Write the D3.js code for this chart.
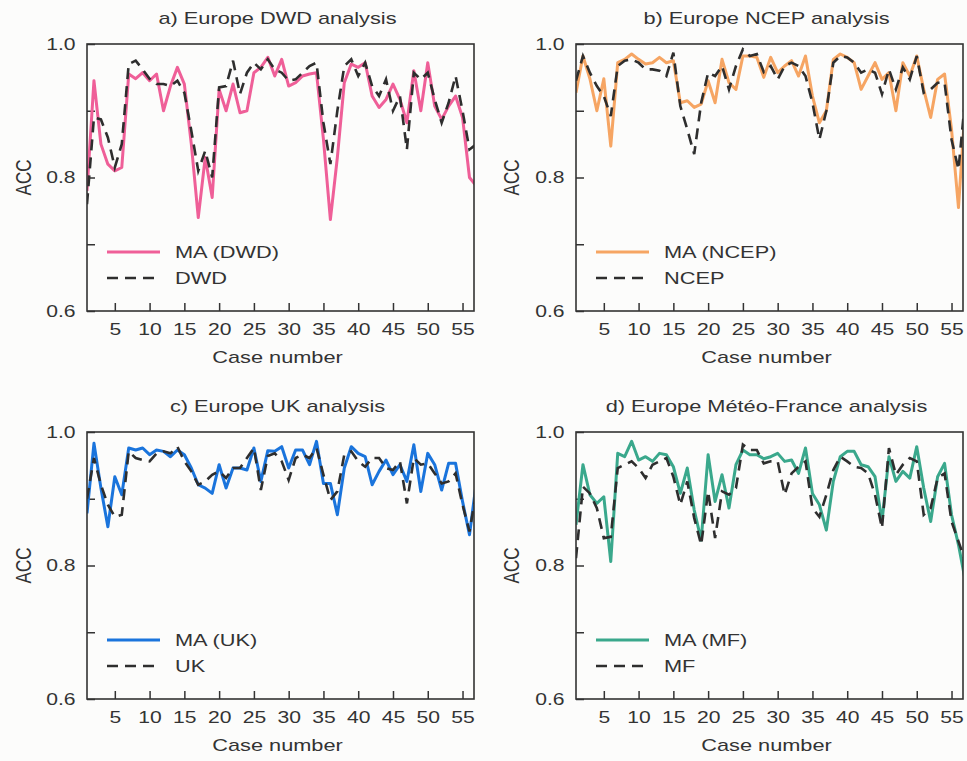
<!DOCTYPE html>
<html>
<head>
<meta charset="utf-8">
<script src="https://cdn.jsdelivr.net/npm/d3@7"></script>
<style>
    body { margin: 0; background: #fcfcfb; }
    svg { display: block; }
    text { font-family: "Liberation Sans", Arial, sans-serif; fill: #333; }
</style>
</head>
<body>
<svg id="chart" width="967" height="761"></svg>
<script>
// Case numbers and tick labels
const cases = d3.range(1, 58);
const xTickValues = [5, 10, 15, 20, 25, 30, 35, 40, 45, 50, 55];
const yTickValues = [0.6, 0.7, 0.8, 0.9, 1.0];
const yTickLabels = ["0.6", "", "0.8", "", "1.0"];

// a) DWD
const maDWD = [0.78,0.945,0.85,0.82,0.81,0.815,0.955,0.948,0.957,0.945,
    0.955,0.90,0.937,0.965,0.94,0.85,0.74,0.83,0.77,0.932,
    0.90,0.94,0.897,0.90,0.957,0.965,0.98,0.952,0.977,0.937,
    0.942,0.952,0.955,0.957,0.857,0.737,0.83,0.942,0.97,0.965,
    0.972,0.922,0.905,0.917,0.94,0.917,0.882,0.96,0.90,0.972,
    0.907,0.887,0.907,0.922,0.89,0.80,0.787];
const dwd = [0.76,0.89,0.887,0.86,0.815,0.85,0.97,0.975,0.962,0.948,
    0.94,0.94,0.937,0.945,0.927,0.87,0.81,0.84,0.80,0.935,
    0.937,0.975,0.925,0.957,0.972,0.962,0.977,0.962,0.957,0.945,
    0.947,0.957,0.967,0.972,0.882,0.82,0.90,0.967,0.977,0.952,
    0.972,0.937,0.922,0.947,0.90,0.922,0.842,0.957,0.947,0.957,
    0.917,0.882,0.912,0.952,0.90,0.842,0.85];

// b) NCEP
const maNCEP = [0.927,0.982,0.948,0.90,0.948,0.847,0.972,0.977,0.985,0.977,
    0.97,0.972,0.98,0.972,0.975,0.912,0.915,0.905,0.91,0.945,
    0.912,0.977,0.942,0.932,0.982,0.982,0.98,0.95,0.98,0.957,
    0.967,0.975,0.952,0.982,0.922,0.882,0.90,0.977,0.985,0.98,
    0.972,0.932,0.952,0.972,0.947,0.957,0.90,0.972,0.952,0.982,
    0.932,0.89,0.947,0.955,0.872,0.755,0.912];
const ncep = [0.945,0.982,0.957,0.937,0.922,0.892,0.967,0.975,0.977,0.972,
    0.962,0.962,0.96,0.952,0.987,0.907,0.872,0.835,0.912,0.957,
    0.952,0.967,0.932,0.967,0.992,0.982,0.985,0.958,0.967,0.947,
    0.967,0.972,0.967,0.952,0.912,0.857,0.90,0.972,0.982,0.98,
    0.972,0.957,0.962,0.957,0.925,0.962,0.932,0.965,0.947,0.982,
    0.927,0.932,0.942,0.942,0.857,0.812,0.922];

// c) UK
const maUK = [0.878,0.983,0.916,0.858,0.933,0.906,0.976,0.973,0.976,0.966,
    0.973,0.971,0.963,0.973,0.966,0.946,0.921,0.916,0.908,0.951,
    0.916,0.946,0.946,0.943,0.976,0.926,0.972,0.971,0.978,0.946,
    0.973,0.973,0.951,0.986,0.923,0.923,0.876,0.946,0.978,0.968,
    0.963,0.921,0.941,0.958,0.936,0.951,0.926,0.981,0.911,0.968,
    0.951,0.913,0.953,0.953,0.896,0.846,0.926];
const uk = [0.90,0.961,0.921,0.891,0.873,0.876,0.971,0.961,0.958,0.956,
    0.968,0.971,0.968,0.978,0.956,0.941,0.921,0.926,0.936,0.941,
    0.931,0.946,0.946,0.961,0.976,0.913,0.964,0.968,0.956,0.928,
    0.961,0.966,0.961,0.976,0.936,0.898,0.911,0.966,0.971,0.956,
    0.948,0.961,0.961,0.946,0.943,0.956,0.893,0.961,0.951,0.953,
    0.938,0.923,0.926,0.938,0.891,0.851,0.911];

// d) Meteo-France
const maMF = [0.861,0.951,0.906,0.893,0.903,0.806,0.968,0.963,0.986,0.958,
    0.963,0.956,0.968,0.966,0.948,0.908,0.946,0.883,0.838,0.966,
    0.896,0.936,0.886,0.951,0.973,0.966,0.966,0.96,0.963,0.968,
    0.956,0.958,0.938,0.976,0.908,0.891,0.853,0.926,0.963,0.971,
    0.971,0.951,0.948,0.933,0.866,0.963,0.926,0.941,0.931,0.978,
    0.916,0.866,0.933,0.953,0.876,0.831,0.776];
const mf = [0.811,0.918,0.908,0.886,0.841,0.843,0.946,0.951,0.956,0.946,
    0.931,0.951,0.956,0.961,0.933,0.891,0.926,0.871,0.831,0.911,
    0.841,0.911,0.906,0.916,0.981,0.973,0.973,0.953,0.956,0.956,
    0.906,0.938,0.948,0.956,0.886,0.873,0.906,0.943,0.963,0.956,
    0.948,0.946,0.938,0.906,0.856,0.976,0.936,0.951,0.961,0.956,
    0.876,0.886,0.931,0.938,0.866,0.836,0.806];

const panels = [
    {id: "a", title: "a) Europe DWD analysis", ma: maDWD, ref: dwd, maName: "MA (DWD)", refName: "DWD", color: "#ef5f98", left: 87, top: 44},
    {id: "b", title: "b) Europe NCEP analysis", ma: maNCEP, ref: ncep, maName: "MA (NCEP)", refName: "NCEP", color: "#f6a563", left: 576, top: 44},
    {id: "c", title: "c) Europe UK analysis", ma: maUK, ref: uk, maName: "MA (UK)", refName: "UK", color: "#1a74dc", left: 87, top: 432},
    {id: "d", title: "d) Europe Météo-France analysis", ma: maMF, ref: mf, maName: "MA (MF)", refName: "MF", color: "#3aa88c", left: 576, top: 432}
];

const W = 387, H = 267;
const sx = 1.28; // the scanned type is wide
const svg = d3.select("#chart");

function stretched(sel, x, y, extra) {
    sel.attr("transform", "translate(" + x + "," + y + ") scale(" + sx + ",1)" + (extra || ""));
}

panels.forEach(function(p) {
    let g = svg.append("g").attr("transform", "translate(" + p.left + "," + p.top + ")");

    let x = d3.scaleLinear().domain([1, 56.65]).range([0, W]);
    let y = d3.scaleLinear().domain([0.6, 1.0]).range([H, 0]);

    g.append("clipPath").attr("id", "clip-" + p.id)
        .append("rect").attr("width", W).attr("height", H);

    // x axis, ticks pointing inward
    let xAxis = g.append("g").attr("transform", "translate(0," + H + ")")
        .call(d3.axisBottom(x).tickValues(xTickValues).tickSizeInner(-8).tickSizeOuter(0).tickPadding(12));
    xAxis.select(".domain").remove();
    xAxis.selectAll("line").attr("stroke", "#333").attr("stroke-width", 1.5);
    xAxis.selectAll("text").attr("font-size", 16.5).attr("fill", "#333")
        .attr("transform", "scale(" + sx + ",1)");

    // y axis
    let yAxis = g.append("g")
        .call(d3.axisLeft(y).tickValues(yTickValues).tickSizeInner(-8).tickSizeOuter(0).tickPadding(9)
            .tickFormat(function(d, i) { return yTickLabels[i]; }));
    yAxis.select(".domain").remove();
    yAxis.selectAll("line").attr("stroke", "#333").attr("stroke-width", 1.5);
    yAxis.selectAll("text").attr("font-size", 16.5).attr("fill", "#333")
        .attr("transform", "scale(" + sx + ",1)");

    // lines
    let line = d3.line()
        .x(function(d, i) { return x(cases[i]); })
        .y(function(d) { return y(d); });

    let plot = g.append("g").attr("clip-path", "url(#clip-" + p.id + ")");
    plot.append("path").datum(p.ma)
        .attr("d", line).attr("fill", "none")
        .attr("stroke", p.color).attr("stroke-width", 3).attr("stroke-linejoin", "round");
    plot.append("path").datum(p.ref)
        .attr("d", line).attr("fill", "none")
        .attr("stroke", "#2e2e2e").attr("stroke-width", 2.6).attr("stroke-dasharray", "11,7");

    // frame
    g.append("rect").attr("width", W).attr("height", H)
        .attr("fill", "none").attr("stroke", "#333").attr("stroke-width", 1.6);

    // legend
    g.append("line").attr("x1", 20).attr("x2", 73).attr("y1", 208).attr("y2", 208)
        .attr("stroke", p.color).attr("stroke-width", 3);
    g.append("line").attr("x1", 20).attr("x2", 73).attr("y1", 234).attr("y2", 234)
        .attr("stroke", "#2e2e2e").attr("stroke-width", 2.6).attr("stroke-dasharray", "11,7");
    g.append("text").text(p.maName).attr("font-size", 17)
        .call(stretched, 88, 214);
    g.append("text").text(p.refName).attr("font-size", 17)
        .call(stretched, 88, 240);

    // title
    g.append("text").text(p.title).attr("font-size", 17).attr("text-anchor", "middle")
        .call(stretched, W / 2 - 3, -20);

    // axis labels
    g.append("text").text("Case number").attr("font-size", 17).attr("text-anchor", "middle")
        .call(stretched, W / 2 - 3, H + 52);
    g.append("text").text("ACC").attr("font-size", 17).attr("text-anchor", "middle")
        .attr("transform", "translate(" + (p.left === 87 ? -56 : -57) + "," + (H / 2) + ") scale(" + sx + ",1) rotate(-90)");
});
</script>
</body>
</html>
